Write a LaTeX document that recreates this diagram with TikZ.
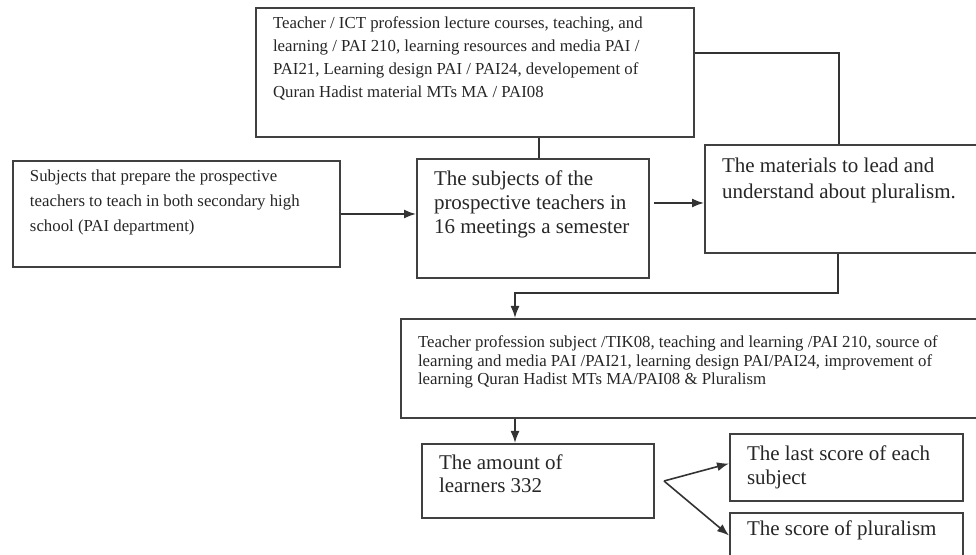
\documentclass[tikz,border=0pt]{standalone}
\usepackage{fontspec}
\setmainfont{Liberation Serif}
\usetikzlibrary{arrows.meta}
\begin{document}
\begin{tikzpicture}[x=0.5pt,y=-0.5pt,>={Latex[length=6pt,width=4.5pt]},
  box/.style={draw=black!75,line width=1pt,anchor=north west,inner xsep=8.5pt,inner ysep=0pt,text=black!85},
  small/.style={font=\fontsize{8.4}{11.5}\selectfont},
  large/.style={font=\fontsize{10.5}{12}\selectfont},
  link/.style={draw=black!80,line width=0.8pt}]
\useasboundingbox (0,0) rectangle (976,555);
% boxes
\node[box,small] (top) at (255,7) {\parbox[t][64.5pt][t]{202pt}{\raggedright\vspace*{4.3pt}
  Teacher / ICT profession lecture courses, teaching, and\\
  learning / PAI 210, learning resources and media PAI /\\
  PAI21, Learning design PAI / PAI24, developement of\\
  Quran Hadist material MTs MA / PAI08}};
\node[box,font=\fontsize{8.4}{12.5}\selectfont] (left) at (12,160) {\parbox[t][53pt][t]{146.5pt}{\raggedright\vspace*{4.3pt}
  Subjects that prepare the prospective\\
  teachers to teach in both secondary high\\
  school (PAI department)}};
\node[box,large] (mid) at (416,158) {\parbox[t][59.5pt][t]{99pt}{\raggedright\vspace*{5.9pt}
  The subjects of the\\ prospective teachers in\\ 16 meetings a semester}};
\node[box,font=\fontsize{10.5}{13}\selectfont] (right) at (704,144) {\parbox[t][54pt][t]{121pt}{\raggedright\vspace*{6.4pt}
  The materials to lead and\\ understand about pluralism.}};
\node[box,font=\fontsize{8.4}{9.3}\selectfont] (big) at (400,318) {\parbox[t][49.5pt][t]{273pt}{\raggedright\vspace*{8.3pt}
  Teacher profession subject /TIK08, teaching and learning /PAI 210, source of\\
  learning and media PAI /PAI21, learning design PAI/PAI24, improvement of\\
  learning Quran Hadist MTs MA/PAI08 \& Pluralism}};
\node[box,font=\fontsize{10.5}{11.5}\selectfont] (amount) at (421,443) {\parbox[t][37pt][t]{99pt}{\raggedright\vspace*{5.4pt}
  The amount of\\ learners 332}};
\node[box,large] (last) at (729,433) {\parbox[t][33.5pt][t]{99.5pt}{\raggedright\vspace*{5.9pt}
  The last score of each\\ subject}};
\node[box,large] (plural) at (729,512) {\parbox[t][22.5pt][t]{99.5pt}{\raggedright\vspace*{3.9pt}
  The score of pluralism}};
% connectors
\coordinate (bend) at (515,293);
\draw[link] ([xshift=3pt]mid.north) -- ([xshift=3pt]mid.north |- top.south);
\draw[link] ([yshift=9.75pt]top.east) -| ([xshift=-2pt]right.north);
\draw[link,->] (left.east) -- (left.east -| mid.west);
\draw[link,->] ([xshift=2pt,yshift=7.75pt]mid.east) -- ([yshift=7.75pt]mid.east -| right.west);
\draw[link,->] ([xshift=-2.5pt]right.south) |- (bend) -- (bend |- big.north);
\draw[link,->] (bend |- big.south) -- (bend |- amount.north);
\draw[link,->] ([xshift=4.5pt]amount.east) -- ([yshift=2pt]last.west);
\draw[link,->] ([xshift=4.5pt]amount.east) -- (plural.west);
\end{tikzpicture}
\end{document}
